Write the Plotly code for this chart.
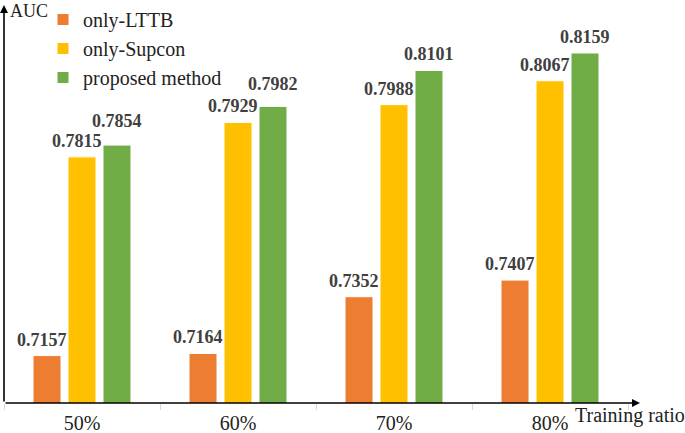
import plotly.graph_objects as go

categories = ["50%", "60%", "70%", "80%"]
series_names = ["only-LTTB", "only-Supcon", "proposed method"]
only_lttb = [0.7157, 0.7164, 0.7352, 0.7407]
only_supcon = [0.7815, 0.7929, 0.7988, 0.8067]
proposed = [0.7854, 0.7982, 0.8101, 0.8159]
colors = ["#ED7D31", "#FFC000", "#70AD47"]

# label placement styling (pixels)
label_dx = [-5, -5, 0]
label_lift = [[4, 4, 4, 4], [4, 4, 4, 4], [12, 10, 4, 4]]

SERIF = "Liberation Serif, Times New Roman, serif"
BARGAP = 0.327
all_series = [only_lttb, only_supcon, proposed]

fig = go.Figure()
for name, vals, col in zip(series_names, all_series, colors):
    fig.add_trace(go.Bar(
        name=name, x=categories, y=vals,
        marker=dict(color=col, line=dict(color="white", width=1)),
    ))

slot = (1 - BARGAP) / len(all_series)
for i, vals in enumerate(all_series):
    for j, v in enumerate(vals):
        fig.add_annotation(
            x=j + (i - 1) * slot, y=v, xref="x", yref="y",
            text=f"<b>{v:.4f}</b>", showarrow=False,
            xanchor="center", yanchor="bottom",
            xshift=label_dx[i], yshift=label_lift[i][j],
            font=dict(family=SERIF, size=18, color="#404040"),
        )

fig.update_layout(
    width=685, height=433,
    margin=dict(l=4, r=57, t=0, b=30),
    paper_bgcolor="white", plot_bgcolor="white",
    barmode="group", bargap=BARGAP, bargroupgap=0.2,
    showlegend=True,
    legend=dict(
        x=0.0625, y=1.0, xanchor="left", yanchor="top",
        font=dict(family=SERIF, size=20, color="#222222"),
        bgcolor="rgba(0,0,0,0)", tracegroupgap=0,
    ),
    font=dict(family=SERIF),
)

fig.update_xaxes(
    type="category", showline=False, showgrid=False, zeroline=False,
    ticks="outside", tickson="boundaries", ticklen=6, tickcolor="#d9d9d9",
    ticklabelstandoff=6,
    tickfont=dict(family=SERIF, size=20, color="#222222"),
    automargin=False, range=[-0.5, 3.5],
)
fig.update_yaxes(
    range=[0.70, 0.83344], showline=False, showgrid=False, zeroline=False,
    showticklabels=False, ticks="", automargin=False,
)

# axis arrows
fig.add_annotation(xref="paper", yref="paper", x=0, y=0.98759, ax=0, ay=398,
                   axref="pixel", ayref="pixel", text="", showarrow=True,
                   arrowhead=2, arrowsize=1, arrowwidth=1.6, arrowcolor="black")
fig.add_annotation(xref="paper", yref="paper", x=1.0192, y=0, ax=-636, ay=0,
                   axref="pixel", ayref="pixel", text="", showarrow=True,
                   arrowhead=2, arrowsize=1, arrowwidth=1.6, arrowcolor="black")

fig.add_annotation(xref="paper", yref="paper", x=0.007, y=0.9727,
                   xanchor="left", yanchor="middle", text="AUC", showarrow=False,
                   font=dict(family=SERIF, size=18, color="#222222"))
fig.add_annotation(xref="paper", yref="paper", x=0.912, y=-0.032,
                   xanchor="left", yanchor="middle", text="Training ratio", showarrow=False,
                   font=dict(family=SERIF, size=20, color="#222222"))

fig.write_html("out.html", config={"displayModeBar": False},
               post_script="document.body.style.margin='0';")
